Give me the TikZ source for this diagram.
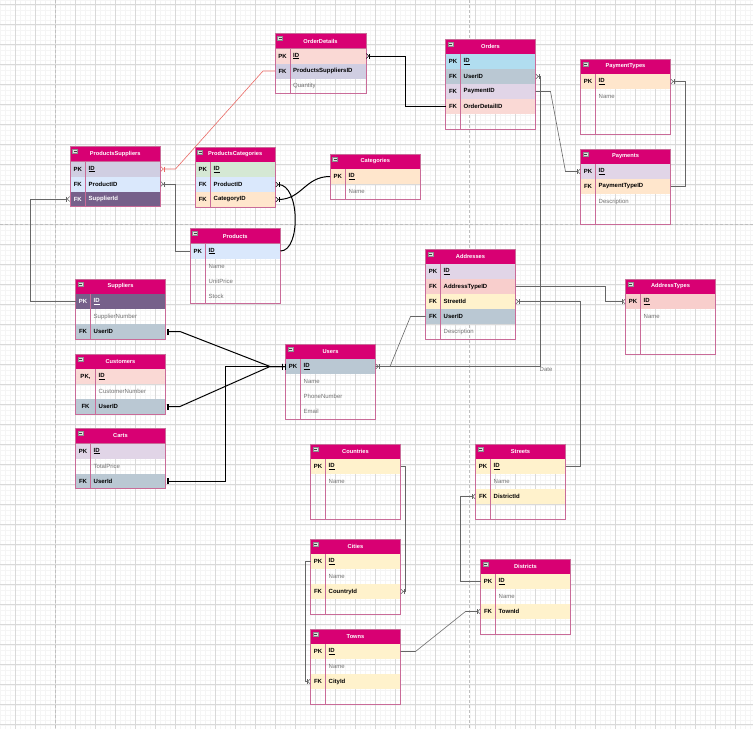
\documentclass[tikz,border=0pt]{standalone}
\usepackage{fontspec}
\setmainfont{Liberation Sans}
\usetikzlibrary{arrows.meta,calc}

\definecolor{hdr}{HTML}{D80073}
\definecolor{tblborder}{HTML}{C96B98}
\definecolor{cSky}{HTML}{B1DDF0}
\definecolor{cSlate}{HTML}{BAC8D3}
\definecolor{cLilac}{HTML}{E1D5E7}
\definecolor{cRed}{HTML}{FAD9D5}
\definecolor{cLav}{HTML}{D0CEE2}
\definecolor{cIce}{HTML}{DAE8FC}
\definecolor{cPurple}{HTML}{76608A}
\definecolor{cMint}{HTML}{D5E8D4}
\definecolor{cPeach}{HTML}{FFE6CC}
\definecolor{cCream}{HTML}{FFF2CC}
\definecolor{cRose}{HTML}{F8CECC}
\definecolor{relred}{HTML}{EA6B66}

\tikzset{
    tblhead/.style={anchor=north west, fill=hdr, draw=tblborder, line width=0.6pt,
        minimum height=15, inner sep=0, outer sep=0, text=white,
        font=\bfseries\fontsize{5.7}{6.5}\selectfont},
    tblrow/.style={anchor=north west, minimum height=15, inner sep=0, outer sep=0},
    tblline/.style={draw=tblborder, line width=0.6pt},
    keytxt/.style={inner sep=0, text=black, font=\bfseries\fontsize{6}{7}\selectfont},
    darktxt/.style={keytxt, text=white},
    plaintxt/.style={inner sep=0, text=black!55, font=\fontsize{6}{7}\selectfont},
    minusbox/.style={fill=black!12, draw=black!45, line width=0.4pt},
    conn/.style={draw=black!60, line width=0.6pt},
    boldconn/.style={draw=black, line width=1pt},
    redconn/.style={draw=relred, line width=0.6pt},
    tomany/.style={-{Bar[width=5pt,line width=0.6pt]Straight Barb[reversed,length=2.5pt,width=5pt,line width=0.6pt]}},
    manyboth/.style={{Straight Barb[reversed,length=2.5pt,width=5pt,line width=0.6pt]Bar[width=5pt,line width=0.6pt]}-{Bar[width=5pt,line width=0.6pt]Straight Barb[reversed,length=2.5pt,width=5pt,line width=0.6pt]}},
    onebars/.style={{Bar[width=6pt,sep=1.5pt]Bar[width=6pt]}-{Bar[width=6pt,sep=1.5pt]Bar[width=6pt]}},
    pagebreak/.style={draw=black!25, line width=0.8pt, dash pattern=on 3pt off 2pt},
    lbl/.style={inner sep=0.5pt, text=black!55, font=\fontsize{6}{7}\selectfont}
}

% #1 name, #2 x, #3 y, #4 width, #5 key column, #6 title, #7 rows key/text/fill/style
\newcommand{\ertable}[7]{%
    \begin{scope}[shift={(#2,#3)}]
        \node[tblhead, minimum width=#4] (#1) at (0,0) {#6};
        \draw[minusbox] (2.5,3) rectangle (7.5,7);
        \draw[black!75, line width=0.5pt] (3.5,5) -- (6.5,5);
        \foreach \rowkey/\rowtext/\rowfill/\rowstyle [count=\i] in {#7} {
            \node[tblrow, fill=\rowfill, minimum width=#4] (#1-\i) at (0,15*\i) {};
            \node[\rowstyle] at (#5/2,15*\i+7.5) {\rowkey};
            \node[\rowstyle, anchor=west] at (#5+3,15*\i+7.5) {\rowtext};
            \xdef\nrows{\i}
        }
        \draw[tblline] (0,0) rectangle (#4,{15*(\nrows+1)});
        \draw[tblline] (#5,15) -- (#5,{15*(\nrows+1)});
    \end{scope}}

\begin{document}
\begin{tikzpicture}[x=1pt, y=-1pt]
    \useasboundingbox[fill=white] (0,0) rectangle (753,729);

    % grid
    \foreach \g in {0,5,...,750} \draw[black!4, line width=0.4pt] (\g,0) -- (\g,729);
    \foreach \g in {0,5,...,725} \draw[black!4, line width=0.4pt] (0,\g) -- (753,\g);
    \foreach \g in {15,35,...,735} \draw[black!15, line width=0.6pt] (\g,0) -- (\g,729);
    \foreach \g in {4,24,...,724} \draw[black!15, line width=0.6pt] (0,\g) -- (753,\g);

    % page breaks
    \draw[pagebreak] (55,0) -- (55,729);
    \draw[pagebreak] (469.5,0) -- (469.5,729);
    \draw[pagebreak] (0,224) -- (753,224);

    % tables
    \ertable{od}{275}{33.5}{91}{15}{OrderDetails}{PK/\underline{ID}/cRed/keytxt, FK/ProductsSuppliersID/cLav/keytxt, /Quantity/none/plaintxt}
    \ertable{ord}{445.5}{39}{90}{15}{Orders}{PK/\underline{ID}/cSky/keytxt, FK/UserID/cSlate/keytxt, FK/PaymentID/cLilac/keytxt, FK/OrderDetailID/cRed/keytxt, //none/plaintxt}
    \ertable{pt}{580.5}{59}{90}{15}{PaymentTypes}{PK/\underline{ID}/cPeach/keytxt, /Name/none/plaintxt, //none/plaintxt, //none/plaintxt}
    \ertable{pay}{580.5}{149}{90}{15}{Payments}{PK/\underline{ID}/cLilac/keytxt, FK/PaymentTypeID/cPeach/keytxt, /Description/none/plaintxt, //none/plaintxt}
    \ertable{ps}{70}{146.5}{90.5}{15.5}{ProductsSuppliers}{PK/\underline{ID}/cLav/keytxt, FK/ProductID/cIce/keytxt, FK/SupplierId/cPurple/darktxt}
    \ertable{pc}{195}{147}{80.5}{15.5}{ProductsCategories}{PK/\underline{ID}/cMint/keytxt, FK/ProductID/cIce/keytxt, FK/CategoryID/cPeach/keytxt}
    \ertable{cat}{330}{154}{90.5}{15.5}{Categories}{PK/\underline{ID}/cPeach/keytxt, /Name/none/plaintxt}
    \ertable{prod}{190}{228.5}{90.5}{15.5}{Products}{PK/\underline{ID}/cIce/keytxt, /Name/none/plaintxt, /UnitPrice/none/plaintxt, /Stock/none/plaintxt}
    \ertable{sup}{75.5}{279}{90}{15}{Suppliers}{PK/\underline{ID}/cPurple/darktxt, /SupplierNumber/none/plaintxt, FK/UserID/cSlate/keytxt}
    \ertable{cus}{75.5}{354}{90}{20}{Customers}{{PK,}/\underline{ID}/cRed/keytxt, /CustomerNumber/none/plaintxt, FK/UserID/cSlate/keytxt}
    \ertable{cart}{75.5}{428.5}{90}{15}{Carts}{PK/\underline{ID}/cLilac/keytxt, /TotalPrice/none/plaintxt, FK/UserId/cSlate/keytxt}
    \ertable{usr}{285.5}{344}{90}{15}{Users}{PK/\underline{ID}/cSlate/keytxt, /Name/none/plaintxt, /PhoneNumber/none/plaintxt, /Email/none/plaintxt}
    \ertable{adr}{425.5}{249}{90}{15}{Addresses}{PK/\underline{ID}/cLilac/keytxt, FK/AddressTypeID/cRose/keytxt, FK/StreetId/cCream/keytxt, FK/UserID/cSlate/keytxt, /Description/none/plaintxt}
    \ertable{at}{625.5}{279}{90}{15}{AddressTypes}{PK/\underline{ID}/cRose/keytxt, /Name/none/plaintxt, //none/plaintxt, //none/plaintxt}
    \ertable{co}{310.5}{444}{90}{15}{Countries}{PK/\underline{ID}/cCream/keytxt, /Name/none/plaintxt, //none/plaintxt, //none/plaintxt}
    \ertable{ci}{310.5}{539}{90}{15}{Cities}{PK/\underline{ID}/cCream/keytxt, /Name/none/plaintxt, FK/CountryId/cCream/keytxt, //none/plaintxt}
    \ertable{tw}{310.5}{629}{90}{15}{Towns}{PK/\underline{ID}/cCream/keytxt, /Name/none/plaintxt, FK/CityId/cCream/keytxt, //none/plaintxt}
    \ertable{st}{475.5}{444}{90}{15}{Streets}{PK/\underline{ID}/cCream/keytxt, /Name/none/plaintxt, FK/DistrictId/cCream/keytxt, //none/plaintxt}
    \ertable{dis}{480.5}{559}{90}{15}{Districts}{PK/\underline{ID}/cCream/keytxt, /Name/none/plaintxt, FK/TownId/cCream/keytxt, //none/plaintxt}

    % relations
    \draw[boldconn, tomany] (ord-4.west) -- ++(-40,0) |- (od-1.east);
    \draw[redconn, tomany] (od-2.west) -- ++(-12,0) -- ($(ps-1.east)+(15,0)$) -- (ps-1.east);
    \draw[conn, tomany] (prod-1.west) -- ++(-15,0) |- (ps-2.east);
    \draw[boldconn, tomany] (prod-1.east) .. controls (301,251) and (300,184.5) .. (pc-2.east);
    \draw[boldconn, tomany] (cat-1.west) .. controls (305,176.5) and (302,199.5) .. (pc-3.east);
    \draw[conn, tomany] (sup-1.west) -- ++(-45,0) |- (ps-3.west);
    \draw[conn, tomany] (pay-2.east) -- ++(15,0) |- (pt-1.east);
    \draw[conn, tomany] (ord-3.east) -- ++(15,0) -- ($(pay-1.west)+(-15,0)$) -- (pay-1.west);
    \draw[conn, manyboth] (ord-2.east) -- ++(4.5,0) |- (usr-1.east);
    \node[lbl, anchor=north west] (datelbl) at (539,366.5) {Date};
    \draw[conn] (adr-4.west) -- ++(-15,0) -- ($(usr-1.east)+(14.5,0)$) -- (usr-1.east);
    \draw[conn, tomany] (adr-2.east) -- ++(90,0) |- (at-1.west);
    \draw[conn, tomany] (st-1.east) -- ++(15,0) |- (adr-3.east);
    \draw[conn, tomany] (dis-1.west) -- ++(-20,0) |- (st-3.west);
    \draw[conn, tomany] (tw-1.east) -- ++(15,0) -- ($(dis-3.west)+(-15,0)$) -- (dis-3.west);
    \draw[conn, tomany] (co-1.east) -- ++(5,0) |- (ci-3.east);
    \draw[conn, tomany] (ci-1.west) -- ++(-5,0) |- (tw-3.west);
    \draw[boldconn, onebars] (sup-3.east) -- ++(14.5,0) -- ($(usr-1.west)+(-15.5,0)$) -- (usr-1.west);
    \draw[boldconn, onebars] (cus-3.east) -- ++(14.5,0) -- ($(usr-1.west)+(-15.5,0)$) -- (usr-1.west);
    \draw[boldconn, onebars] (cart-3.east) -- ++(60,0) |- (usr-1.west);
\end{tikzpicture}
\end{document}
